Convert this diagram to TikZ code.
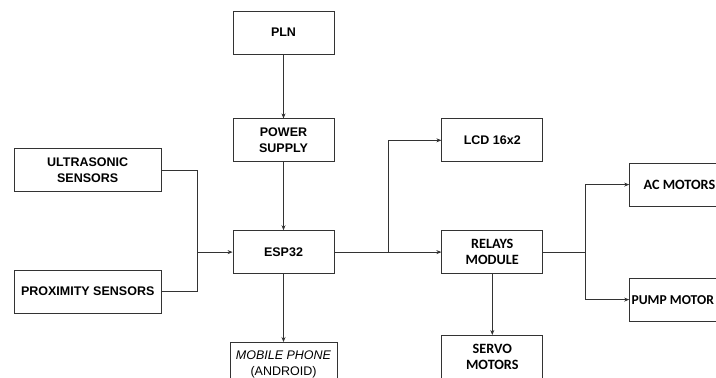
\documentclass[tikz,border=0pt]{standalone}
\usepackage{fontspec}
\setmainfont{Liberation Sans}
\newfontfamily\calfont{Carlito}
\usetikzlibrary{arrows.meta, positioning}

\begin{document}
\begin{tikzpicture}[
    x=1pt, y=-1pt,
    block/.style={rectangle, draw=black!80, line width=0.8pt, minimum width=101pt, minimum height=43pt, align=center, inner sep=1pt, font=\fontsize{12.5}{15.5}\selectfont\bfseries},
    calblock/.style={block, font=\calfont\fontsize{14.2}{16.3}\selectfont\bfseries},
    arrow/.style={-{Stealth[length=5pt, width=4pt]}, line width=0.7pt, black!80},
    wire/.style={line width=0.7pt, black!80}
]
    \useasboundingbox (0,0) rectangle (716,378);

    % Power chain
    \node[block] (pln) at (283.5,32.5) {PLN};
    \node[block, below=64pt of pln] (psu) {POWER\\SUPPLY};
    \node[block, below=68pt of psu] (esp) {ESP32};
    \node[block, below=68pt of esp, minimum width=107pt, minimum height=44pt, font=\fontsize{12.5}{15.5}\selectfont] (phone) {\textit{MOBILE PHONE}\\(ANDROID)};

    % Sensors
    \node[block, minimum width=147pt, left=71pt of esp, yshift=82pt] (ultra) {ULTRASONIC\\SENSORS};
    \node[block, minimum width=147pt, left=71pt of esp, yshift=-39.5pt] (prox) {PROXIMITY SENSORS};

    % Outputs
    \node[calblock, right=107pt of esp] (relay) {RELAYS\\MODULE};
    \node[block, above=68pt of relay] (lcd) {LCD 16x2};
    \node[calblock, below=61pt of relay] (servo) {SERVO\\MOTORS};
    \node[calblock, minimum width=104pt, right=86pt of relay, yshift=67.5pt] (ac) {\makebox[100pt][l]{\hspace*{12pt}AC MOTORS}};
    \node[calblock, minimum width=104pt, right=86pt of relay, yshift=-47.5pt, font=\calfont\fontsize{13.6}{16}\selectfont\bfseries] (pump) {\makebox[100pt][l]{PUMP MOTOR}};

    % Junctions
    \coordinate[left=35pt of esp] (jin);
    \coordinate[right=54pt of esp] (jout);
    \coordinate[right=42pt of relay] (jmot);

    % Arrows
    \draw[arrow] (pln) -- (psu);
    \draw[arrow] (psu) -- (esp);
    \draw[arrow] (esp) -- (phone);

    \draw[wire] (ultra.east) -| (jin);
    \draw[wire] (prox.east) -| (jin);
    \draw[arrow] (jin) -- (esp.west);

    \draw[wire] (esp.east) -- (jout);
    \draw[arrow] (jout) -- (relay.west);
    \draw[arrow] (jout) |- (lcd.west);

    \draw[arrow] (relay) -- (servo);
    \draw[wire] (relay.east) -- (jmot);
    \draw[arrow] (jmot) |- (ac.west);
    \draw[arrow] (jmot) |- (pump.west);
\end{tikzpicture}
\end{document}
